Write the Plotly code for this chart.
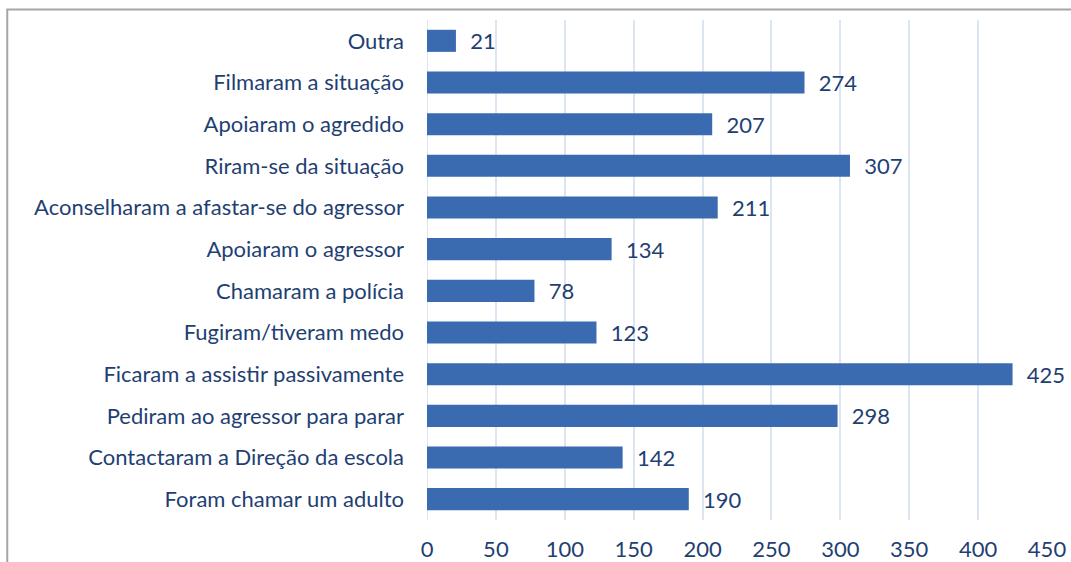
import plotly.graph_objects as go

categories = ["Foram chamar um adulto", "Contactaram a Direção da escola", "Pediram ao agressor para parar",
              "Ficaram a assistir passivamente", "Fugiram/tiveram medo", "Chamaram a polícia",
              "Apoiaram o agressor", "Aconselharam a afastar-se do agressor", "Riram-se da situação",
              "Apoiaram o agredido", "Filmaram a situação", "Outra"]
values = [190, 142, 298, 425, 123, 78, 134, 211, 307, 207, 274, 21]
tick_vals = [0, 50, 100, 150, 200, 250, 300, 350, 400, 450]

txt = "#1F3F73"
fs = 22
fig = go.Figure(go.Bar(
    y=categories, x=values, orientation="h",
    marker=dict(color="#3A6BB0", line=dict(width=0)),
    width=0.53,
    text=["  " + str(v) for v in values], textposition="outside",
    textfont=dict(size=fs, color=txt, family="Lato"),
    constraintext="none",
    cliponaxis=False,
))
fig.update_layout(
    width=1071, height=562,
    margin=dict(l=427, r=24, t=20, b=42, autoexpand=False),
    paper_bgcolor="white", plot_bgcolor="white",
    font=dict(family="Lato", size=fs, color=txt),
    showlegend=False,
    xaxis=dict(range=[0, 450], tickvals=tick_vals, showgrid=True, gridcolor="#DCE6F2", gridwidth=2,
               zeroline=False, showline=False, ticks="", automargin=False, ticklabelstandoff=14,
               tickfont=dict(size=fs, color=txt)),
    yaxis=dict(showgrid=False, zeroline=False, showline=False, ticks="", ticklabelstandoff=22,
               automargin=False, tickfont=dict(size=fs, color=txt), range=[-0.5, 11.5]),
    shapes=[dict(type="rect", xref="paper", yref="paper", x0=-0.677, x1=1.1, y0=-0.3, y1=1.021,
                 line=dict(color="#A6A6A6", width=2), layer="below")],
)
fig.add_shape(type="line", xref="x", yref="paper", x0=0, x1=0, y0=0, y1=1,
              line=dict(color="#DCE6F2", width=2), layer="below")
fig.write_html("out.html", config={"displayModeBar": False},
               post_script="document.body.style.margin='0';document.body.style.overflow='hidden';")
